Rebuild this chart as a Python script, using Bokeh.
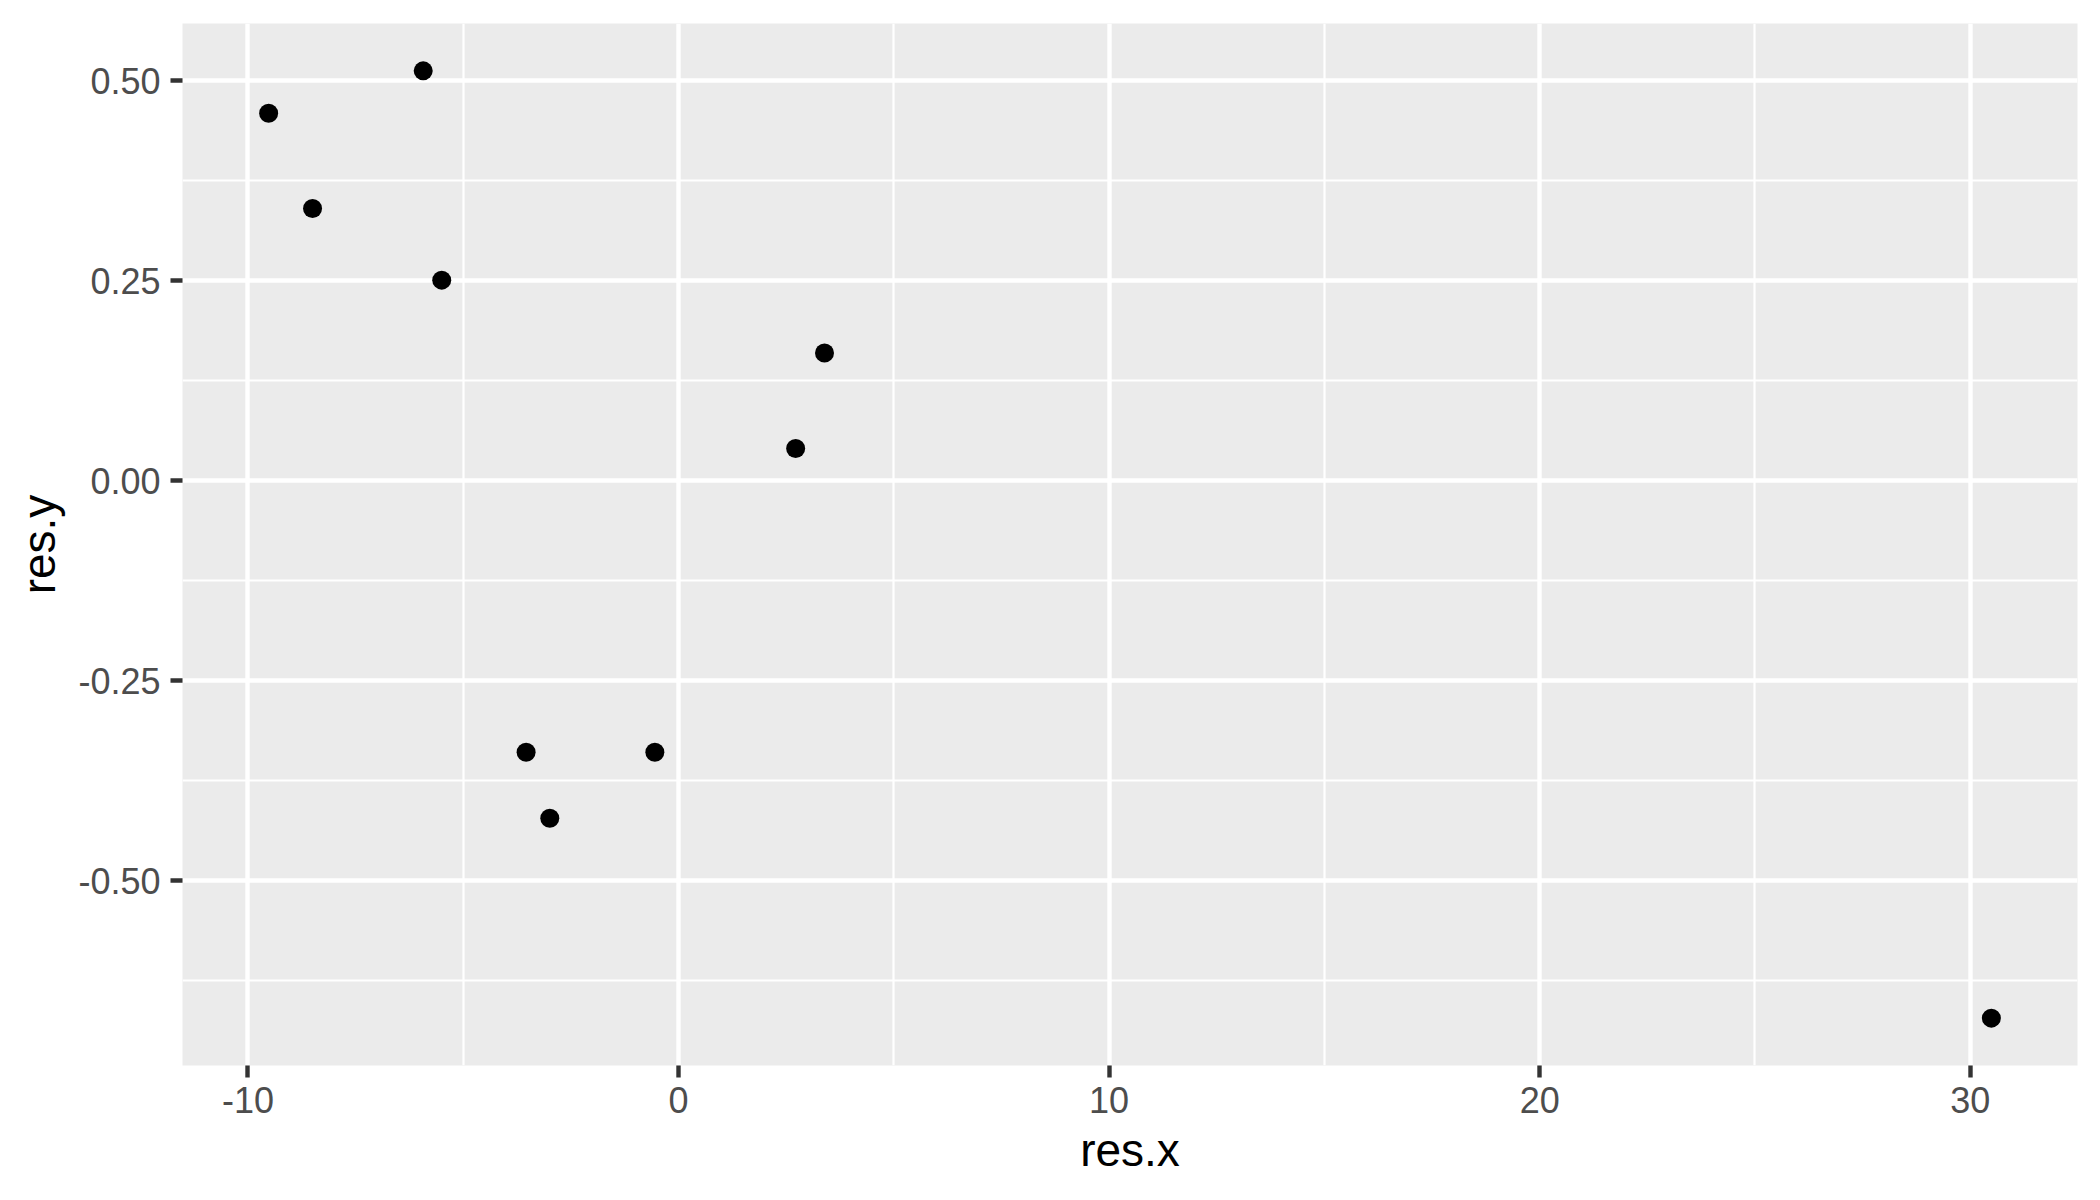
from bokeh.plotting import figure
from bokeh.models import FixedTicker, Range1d
from bokeh.embed import file_html
from bokeh.resources import INLINE

# data
res_x = [-9.52, -8.50, -5.93, -5.50, -3.54, -0.55, -2.99, 3.39, 2.72, 30.49]
res_y = [0.4596, 0.3404, 0.5125, 0.2508, -0.3396, -0.3396, -0.422, 0.1596, 0.0404, -0.672]

x_ticks = [-10, 0, 10, 20, 30]
x_minor = [-5, 5, 15, 25]
x_labels = ["-10", "0", "10", "20", "30"]
y_ticks = [-0.5, -0.25, 0.0, 0.25, 0.5]
y_minor = [-0.625, -0.375, -0.125, 0.125, 0.375]
y_labels = ["-0.50", "-0.25", "0.00", "0.25", "0.50"]

def expand(vals, f=0.05):
    lo, hi = min(vals), max(vals)
    d = (hi - lo) * f
    return lo - d, hi + d

xr = expand(res_x)
yr = expand(res_y)

FONT = "Liberation Sans"

p = figure(width=2084, height=1184, output_backend="svg", toolbar_location=None,
           x_range=Range1d(*xr), y_range=Range1d(*yr),
           min_border_left=182, min_border_right=7, min_border_top=23, min_border_bottom=119,
           background_fill_color="#EBEBEB", border_fill_color="white")
p.outline_line_color = None

p.scatter(res_x, res_y, size=19, color="black", line_color=None)

p.xaxis.ticker = FixedTicker(ticks=x_ticks, minor_ticks=x_minor)
p.yaxis.ticker = FixedTicker(ticks=y_ticks, minor_ticks=y_minor)
p.xaxis.major_label_overrides = {t: l for t, l in zip(x_ticks, x_labels)}
p.yaxis.major_label_overrides = {t: l for t, l in zip(y_ticks, y_labels)}

for g in (p.xgrid, p.ygrid):
    g.grid_line_color = "white"
    g.grid_line_width = 4.4
    g.minor_grid_line_color = "white"
    g.minor_grid_line_width = 2.2

for ax in (p.xaxis, p.yaxis):
    ax.axis_line_color = None
    ax.major_tick_line_color = "#333333"
    ax.major_tick_line_width = 4.4
    ax.major_tick_out = 12
    ax.major_tick_in = 0
    ax.minor_tick_line_color = None
    ax.major_label_text_font = FONT
    ax.major_label_text_font_size = "36px"
    ax.major_label_text_color = "#4D4D4D"
    ax.axis_label_text_font = FONT
    ax.axis_label_text_font_size = "46px"
    ax.axis_label_text_font_style = "normal"
    ax.axis_label_text_color = "black"

p.xaxis.axis_label = "res.x"
p.yaxis.axis_label = "res.y"
p.xaxis.major_label_standoff = 9
p.yaxis.major_label_standoff = 10
p.xaxis.axis_label_standoff = 8
p.yaxis.axis_label_standoff = 10

open("out.html", "w").write(file_html(p, INLINE))
